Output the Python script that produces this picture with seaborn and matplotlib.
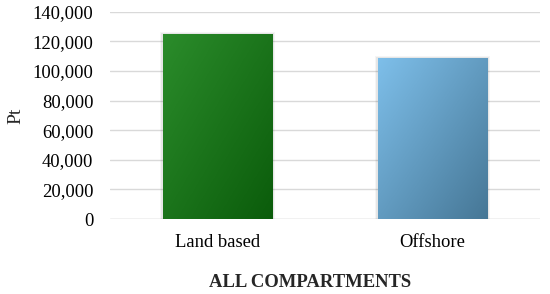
import matplotlib
matplotlib.use("Agg")
import matplotlib.pyplot as plt
import seaborn as sns
import numpy as np
import pandas as pd
from matplotlib.colors import LinearSegmentedColormap

categories = ["Land based", "Offshore"]
values = [125000, 109000]
yticks = [0, 20000, 40000, 60000, 80000, 100000, 120000, 140000]

sns.set_theme(style="white")
plt.rcParams['font.family'] = ['Liberation Serif', 'DejaVu Serif']

df = pd.DataFrame({"cat": categories, "val": values})
fig = plt.figure(figsize=(5.5, 2.94), dpi=100)
ax = fig.add_axes([0.2, 0.255, 0.782, 0.705])
sns.barplot(data=df, x="cat", y="val", ax=ax, width=0.51,
            palette=["#1f7a1f", "#6aaad6"], hue="cat", legend=False,
            edgecolor="none", zorder=3)

fs = 13.4
ax.set_ylim(0, 140000)
ax.set_yticks(yticks)
ax.set_yticklabels([f"{v:,}" for v in yticks])
ax.yaxis.grid(True, color="#d9d9d9", linewidth=1.0, zorder=0)
ax.set_axisbelow(True)
for s in ["top", "right", "left", "bottom"]:
    ax.spines[s].set_visible(False)
ax.axhline(0, color="#d9d9d9", linewidth=1.0, zorder=1)
ax.tick_params(axis="both", length=0, labelsize=fs, colors="black")
ax.tick_params(axis="y", pad=12)
ax.tick_params(axis="x", pad=11)
ax.set_ylabel("Pt", fontsize=14, labelpad=6)
ax.set_xlabel("ALL COMPARTMENTS", fontsize=fs, fontweight="bold", labelpad=16)
ax.xaxis.label.set_x(0.465)

grads = [("#2b8c2b", "#0b5c0b"), ("#7ebfea", "#467796")]
xl = ax.get_xlim()
yl = ax.get_ylim()
for patch, (c1, c2) in zip(ax.patches, grads):
    x0, y0 = patch.get_x(), patch.get_y()
    w, h = patch.get_width(), patch.get_height()
    cmap = LinearSegmentedColormap.from_list("g", [c1, c2])
    yy, xx = np.mgrid[0:1:100j, 0:1:100j]
    g = (xx + yy) / 2
    for k, a in [(0.012, 0.04), (0.006, 0.06)]:
        ax.add_patch(plt.Rectangle((x0 - k, y0), w + 2 * k, h + k * 120000,
                                   facecolor="#000000", alpha=a, edgecolor="none", zorder=2))
    im = ax.imshow(g, cmap=cmap, extent=[x0, x0 + w, y0, y0 + h],
                   origin="upper", aspect="auto", zorder=4)
    im.set_clip_path(patch)
ax.set_xlim(xl)
ax.set_ylim(yl)

fig.savefig("out.png", dpi=100)
